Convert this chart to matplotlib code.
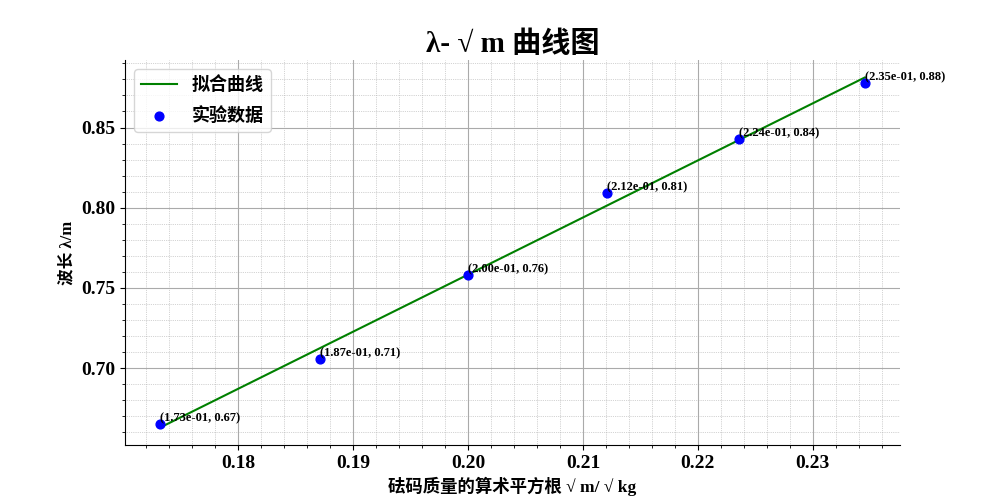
import numpy as np
import matplotlib
matplotlib.use("Agg")
from matplotlib import pyplot as plt

plt.rcParams['font.family'] = ['Liberation Serif', 'Noto Sans CJK SC', 'DejaVu Serif']
plt.rcParams['font.weight'] = 'bold'
plt.rcParams['axes.unicode_minus'] = False

# sqrt of the weight mass (sqrt kg) and measured wavelength (m)
sqrt_m = [0.17321, 0.18708, 0.20000, 0.21213, 0.22361, 0.23452]
wavelength = [0.6653, 0.7058, 0.7581, 0.8092, 0.8428, 0.8775]

x = np.array(sqrt_m)
y = np.array(wavelength)
k, b = np.polyfit(x, y, 1)

fig, ax = plt.subplots(figsize=(10, 5), dpi=100)
ax.plot(x, k * x + b, color='green', lw=1.5, label='拟合曲线')
ax.scatter(x, y, color='blue', s=40, zorder=3, label='实验数据')

for xi, yi in zip(x, y):
    ax.annotate(f"({xi:.2e}, {yi:.2f})", (xi, yi), xytext=(0, 2),
                textcoords='offset points', fontsize=9)

ax.set_title('λ- √ m 曲线图', fontsize=21, fontweight='bold')
ax.set_xlabel('砝码质量的算术平方根 √ m/ √ kg', fontsize=12.5, fontweight='bold')
ax.set_ylabel('波长 λ/m', fontsize=12, fontweight='bold')

ax.minorticks_on()
ax.grid(which='major', color='#aaaaaa', lw=0.8)
ax.grid(which='minor', color='#aaaaaa', lw=0.5, ls=':')
ax.tick_params(axis='both', which='major', labelsize=14)
ax.spines['top'].set_visible(False)
ax.spines['right'].set_visible(False)
ax.legend(loc='upper left', prop={'size': 13, 'weight': 'bold'}, labelspacing=0.7)

plt.savefig('out.png')
